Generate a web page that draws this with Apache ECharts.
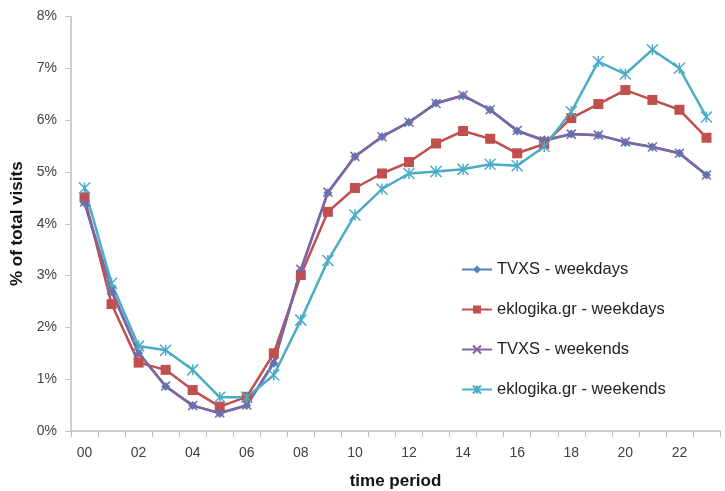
<!DOCTYPE html>
<html><head><meta charset="utf-8">
<script src="https://cdn.jsdelivr.net/npm/echarts@6/dist/echarts.min.js"></script>
<style>html,body{margin:0;padding:0;background:#fff}#c{width:725px;height:491px}</style>
</head><body><div id="c"></div>
<script>
const categories = ['00','01','02','03','04','05','06','07','08','09','10','11','12','13','14','15','16','17','18','19','20','21','22','23'];
const tvxsWeekdays = [4.40,2.69,1.50,0.86,0.49,0.34,0.49,1.31,3.10,4.60,5.30,5.68,5.96,6.33,6.47,6.20,5.79,5.62,5.73,5.71,5.57,5.48,5.36,4.94];
const eklogikaWeekdays = [4.51,2.45,1.32,1.18,0.79,0.47,0.66,1.50,3.01,4.23,4.69,4.97,5.19,5.55,5.79,5.64,5.36,5.54,6.04,6.31,6.58,6.39,6.20,5.66];
const tvxsWeekends = [4.42,2.72,1.51,0.87,0.49,0.35,0.50,1.33,3.12,4.61,5.30,5.68,5.96,6.32,6.48,6.20,5.80,5.60,5.73,5.71,5.58,5.48,5.36,4.94];
const eklogikaWeekends = [4.69,2.85,1.64,1.56,1.18,0.65,0.65,1.08,2.14,3.29,4.17,4.67,4.97,5.01,5.05,5.15,5.12,5.49,6.16,7.13,6.89,7.36,7.00,6.06];
const yTicks = [0,1,2,3,4,5,6,7,8];

const chart = echarts.init(document.getElementById('c'));
const font = 'Liberation Sans, Arial, sans-serif';
function mk(name, data, color, symbol, size, stroke) {
  return {
    name, type: 'line', data, symbol, symbolSize: size,
    lineStyle: {color, width: 2.5},
    itemStyle: stroke ? {color: color, borderColor: color, borderWidth: 1.5} : {color: color},
    emphasis: {disabled: true}, animation: false
  };
}
chart.setOption({
  animation: false,
  textStyle: {fontFamily: font},
  grid: {left: 71, right: 5, top: 16.5, bottom: 60, containLabel: false, outerBoundsMode: 'none'},
  legend: {
    orient: 'vertical', left: 456, top: 256, itemGap: 23, itemWidth: 30, itemHeight: 10,
    textStyle: {fontSize: 16.5, color: '#222', fontFamily: font},
    data: ['TVXS - weekdays','eklogika.gr - weekdays','TVXS - weekends','eklogika.gr - weekends']
  },
  xAxis: {
    type: 'category', data: categories, boundaryGap: true,
    name: 'time period', nameLocation: 'middle', nameGap: 42,
    nameTextStyle: {fontSize: 17, fontWeight: 'bold', color: '#111'},
    axisLine: {lineStyle: {color: '#bfbfbf', width: 1.5}},
    axisTick: {show: true, interval: 0, alignWithLabel: false, length: 6, lineStyle: {color: '#bfbfbf'}},
    axisLabel: {interval: 1, fontSize: 14, color: '#404040', margin: 15},
    splitLine: {show: false}
  },
  yAxis: {
    type: 'value', min: 0, max: 8, interval: 1,
    name: '% of total visits', nameLocation: 'middle', nameGap: 43,
    nameTextStyle: {fontSize: 17, fontWeight: 'bold', color: '#111'},
    axisLine: {show: true, lineStyle: {color: '#bfbfbf', width: 1.5}},
    axisTick: {show: true, length: 6, lineStyle: {color: '#bfbfbf'}},
    axisLabel: {fontSize: 14, color: '#404040', margin: 14, formatter: v => yTicks.includes(v) ? v + '%' : ''},
    splitLine: {show: false}
  },
  series: [
    mk('TVXS - weekdays', tvxsWeekdays, '#4F81BD', 'diamond', 9, false),
    mk('eklogika.gr - weekdays', eklogikaWeekdays, '#C0504D', 'rect', 10, false),
    mk('TVXS - weekends', tvxsWeekends, '#8064A2', 'path://M0,0L10,10M10,0L0,10', 9, true),
    mk('eklogika.gr - weekends', eklogikaWeekends, '#4BACC6', 'path://M0,0L10,10M10,0L0,10M5,0L5,10', 11, true)
  ]
});
</script></body></html>
